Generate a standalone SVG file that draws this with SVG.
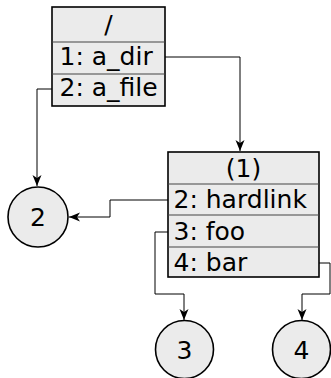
<svg xmlns="http://www.w3.org/2000/svg" width="331" height="378" viewBox="0 0 331 378">
<style>
.box{fill:#ebebeb;stroke:#000;stroke-width:1.6}
.div{stroke:#444;stroke-width:1.2}
.t{font-family:"DejaVu Sans",sans-serif;font-size:25px;fill:#000}
.c{text-anchor:middle}
.e{fill:none;stroke:#000;stroke-width:1}
</style>
<defs>
<marker id="ah" markerUnits="userSpaceOnUse" markerWidth="12" markerHeight="10" refX="11" refY="4.5" orient="auto">
<path d="M0,0 L11,4.5 L0,9 L3,4.5 z" fill="#000"/>
</marker>
</defs>
<g id="root">
<rect class="box" x="52" y="7" width="113" height="99"/>
<line class="div" x1="52" y1="42" x2="165" y2="42"/>
<line class="div" x1="52" y1="74" x2="165" y2="74"/>
<text class="t c" x="108.5" y="33">/</text>
<text class="t" x="59.5" y="64.5">1: a_dir</text>
<text class="t" x="59.5" y="96">2: a_file</text>
</g>
<g id="dir1">
<rect class="box" x="168" y="152" width="151" height="125"/>
<line class="div" x1="168" y1="184" x2="319" y2="184"/>
<line class="div" x1="168" y1="215" x2="319" y2="215"/>
<line class="div" x1="168" y1="247" x2="319" y2="247"/>
<text class="t c" x="243.5" y="177">(1)</text>
<text class="t" x="173.5" y="207.5">2: hardlink</text>
<text class="t" x="173.5" y="239.5">3: foo</text>
<text class="t" x="173.5" y="270.5">4: bar</text>
</g>
<g id="n2">
<circle class="box" cx="38" cy="217" r="30"/>
<text class="t c" x="38" y="226">2</text>
</g>
<g id="n3">
<circle class="box" cx="184.5" cy="349.5" r="29"/>
<text class="t c" x="184.5" y="358.5">3</text>
</g>
<g id="n4">
<circle class="box" cx="301.5" cy="349.5" r="29"/>
<text class="t c" x="301.5" y="358.5">4</text>
</g>
<g id="connectors">
<path class="e" d="M52,89 H37 V186" marker-end="url(#ah)"/>
<path class="e" d="M165,57 H240 V151" marker-end="url(#ah)"/>
<path class="e" d="M168,200 H110 V217 H69" marker-end="url(#ah)"/>
<path class="e" d="M168,232 H155 V294 H184 V320" marker-end="url(#ah)"/>
<path class="e" d="M319,263 H330 V294 H302 V320" marker-end="url(#ah)"/>
</g>
</svg>
